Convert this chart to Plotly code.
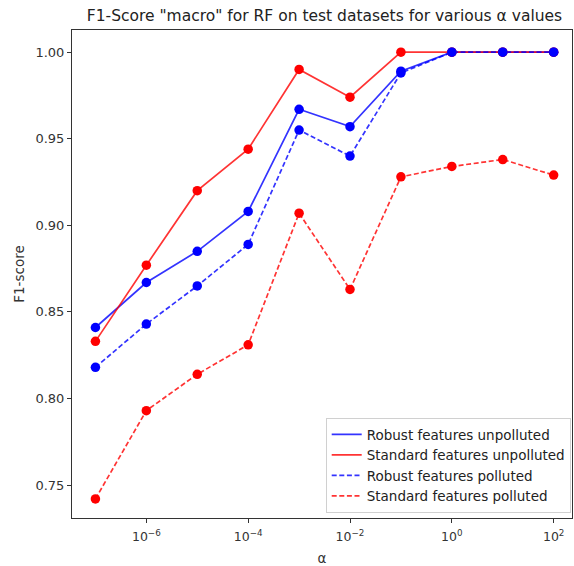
import plotly.graph_objects as go

alphas = [1e-7, 1e-6, 1e-5, 1e-4, 1e-3, 1e-2, 1e-1, 1e0, 1e1, 1e2]
robust_unpolluted = [0.841, 0.867, 0.885, 0.908, 0.967, 0.957, 0.989, 1.0, 1.0, 1.0]
standard_unpolluted = [0.833, 0.877, 0.920, 0.944, 0.990, 0.974, 1.0, 1.0, 1.0, 1.0]
robust_polluted = [0.818, 0.843, 0.865, 0.889, 0.955, 0.940, 0.988, 1.0, 1.0, 1.0]
standard_polluted = [0.742, 0.793, 0.814, 0.831, 0.907, 0.863, 0.928, 0.934, 0.938, 0.929]

series = [
    ("Robust features unpolluted", robust_unpolluted, "0,0,255", "solid"),
    ("Standard features unpolluted", standard_unpolluted, "255,0,0", "solid"),
    ("Robust features polluted", robust_polluted, "0,0,255", "5px,2.6px"),
    ("Standard features polluted", standard_polluted, "255,0,0", "5px,2.6px"),
]

tick_vals = [1e-6, 1e-4, 1e-2, 1e0, 1e2]
tick_text = ["10<sup>\u22126</sup>", "10<sup>\u22124</sup>", "10<sup>\u22122</sup>",
             "10<sup>0</sup>", "10<sup>2</sup>"]
y_ticks = [0.75, 0.80, 0.85, 0.90, 0.95, 1.00]

fig = go.Figure()
for name, vals, rgb, dash in series:
    fig.add_trace(go.Scatter(
        x=alphas, y=vals, mode="lines", name=name,
        line=dict(color=f"rgba({rgb},0.8)", width=1.7, dash=dash),
    ))
for name, vals, rgb, dash in series:
    fig.add_trace(go.Scatter(
        x=alphas, y=vals, mode="markers", showlegend=False,
        marker=dict(color=f"rgb({rgb})", size=9.5),
    ))

font = "DejaVu Sans"
fig.update_layout(
    width=574, height=566,
    margin=dict(l=72, r=1, t=30, b=46),
    paper_bgcolor="white", plot_bgcolor="white",
    font=dict(family=font, size=12, color="#333"),
    title=dict(text='F1-Score "macro" for RF on test datasets for various \u03b1 values',
               x=0.5653, xanchor="center", y=0.973, yanchor="middle",
               font=dict(size=15.5, color="#222")),
    legend=dict(x=0.9974, xanchor="right", y=0.0102, yanchor="bottom",
                bordercolor="#d0d0d0", borderwidth=1, bgcolor="rgba(255,255,255,0.8)",
                font=dict(size=13.5, color="#222"), tracegroupgap=0, itemwidth=30),
    xaxis=dict(type="log", range=[-7.46, 2.36], tickmode="array",
               tickvals=tick_vals, ticktext=tick_text,
               showgrid=False, zeroline=False, showline=True, mirror=True,
               linecolor="#333", linewidth=1, ticks="outside", ticklen=4,
               tickcolor="#333", tickfont=dict(size=12.5), ticklabelstandoff=3,
               title=dict(text="\u03b1", standoff=12, font=dict(size=13.5))),
    yaxis=dict(range=[0.731, 1.0128], tickmode="array", tickvals=y_ticks,
               ticktext=[f"{v:.2f}" for v in y_ticks],
               showgrid=False, zeroline=False, showline=True, mirror=True,
               linecolor="#333", linewidth=1, ticks="outside", ticklen=4,
               tickcolor="#333", tickfont=dict(size=13),
               title=dict(text="F1-score", standoff=7, font=dict(size=13.5))),
)

fig.write_html("out.html")
